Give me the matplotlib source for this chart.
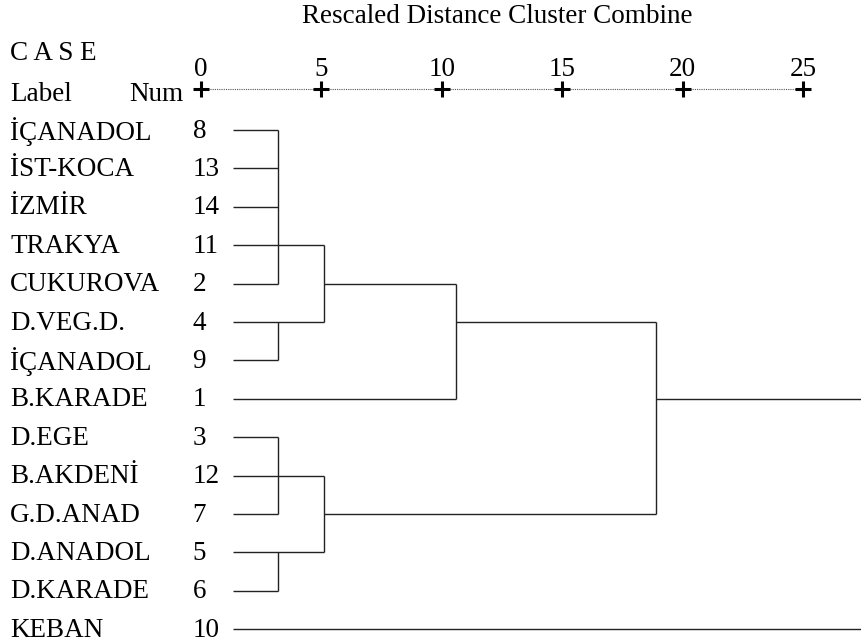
import matplotlib
matplotlib.use("Agg")
from matplotlib import pyplot as plt

plt.rcParams['font.family'] = ['Liberation Serif', 'DejaVu Serif']

# leaves, top to bottom
labels = ['İÇANADOL', 'İST-KOCA', 'İZMİR', 'TRAKYA', 'CUKUROVA', 'D.VEG.D.', 'İÇANADOL',
          'B.KARADE', 'D.EGE', 'B.AKDENİ', 'G.D.ANAD', 'D.ANADOL', 'D.KARADE', 'KEBAN']
nums = [8, 13, 14, 11, 2, 4, 9, 1, 3, 12, 7, 5, 6, 10]

# rescaled distance where each leaf line ends
leaf_start = 1.33
leaf_end = [3.2, 3.2, 3.2, 5.1, 3.2, 5.1, 3.2, 10.6, 3.2, 5.1, 3.2, 5.1, 3.2, 28.0]

# joins: (row, from, to) and vertical (distance, row_top, row_bottom)
h_links = [(4, 5.1, 10.6), (5, 10.6, 18.9), (10, 5.1, 18.9), (7, 18.9, 28.0)]
v_links = [(3.2, 0, 4), (3.2, 5, 6), (5.1, 3, 5), (10.6, 4, 7),
           (3.2, 8, 10), (3.2, 11, 12), (5.1, 9, 11), (18.9, 5, 10)]

ticks = [0, 5, 10, 15, 20, 25]

fig = plt.figure(figsize=(8.61, 6.41), dpi=100)
ax = fig.add_axes([0, 0, 1, 1])
ax.set_xlim(-8.35, 27.41)
ax.set_ylim(13.31, -3.385)
ax.axis('off')

lc = '#222222'
lw = 1.0
for i, e in enumerate(leaf_end):
    ax.plot([leaf_start, e], [i, i], color=lc, lw=lw, solid_capstyle='butt')
for r, a, b in h_links:
    ax.plot([a, b], [r, r], color=lc, lw=lw, solid_capstyle='butt')
for x, r0, r1 in v_links:
    ax.plot([x, x], [r0, r1], color=lc, lw=lw, solid_capstyle='butt')

fs = 19.5
for i, (lab, n) in enumerate(zip(labels, nums)):
    ax.text(-7.93, i + 0.03, lab, fontsize=fs, va='center', ha='left')
    ax.text(-0.35, i + 0.03, str(n), fontsize=fs, va='center', ha='left')

# scale header
ay = -1.07
ax.plot([ticks[0], ticks[-1]], [ay, ay], color='#555555', lw=0.8, ls=(0, (1, 1)))
ax.plot(ticks, [ay] * len(ticks), ls='none', marker='+', ms=11, mew=2.2, color='black')
for t in ticks:
    ax.text(t, ay - 0.5, str(t), fontsize=fs, ha='center', va='center')

ax.text(-7.93, -1.98, 'C A S E', fontsize=fs, va='center', ha='left')
ax.text(-7.93, -0.92, 'Label', fontsize=fs, va='center', ha='left')
ax.text(-0.75, -0.92, 'Num', fontsize=fs, va='center', ha='right')
ax.text(12.3, -2.95, 'Rescaled Distance Cluster Combine', fontsize=fs, va='center', ha='center')

fig.savefig('out.png', dpi=100)
